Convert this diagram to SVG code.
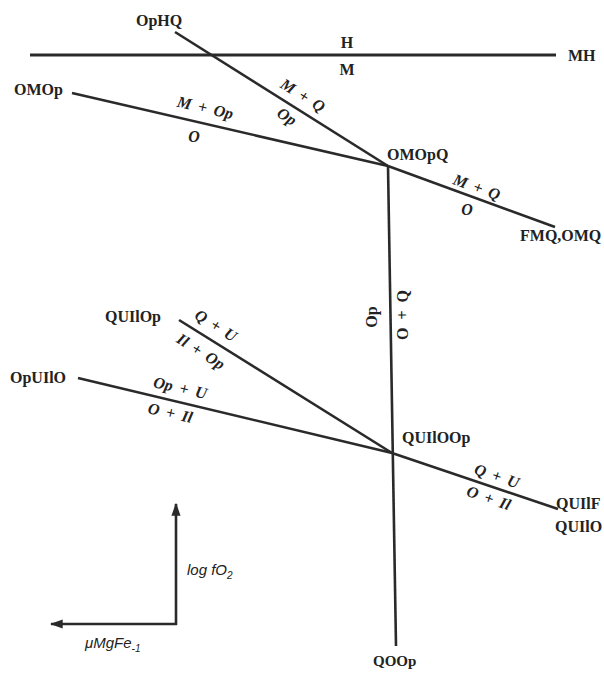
<svg xmlns="http://www.w3.org/2000/svg" width="604" height="673" viewBox="0 0 604 673">
<style>
.ln{stroke:#2a2a2a;stroke-width:2.6;fill:none;stroke-linecap:butt}
.pt{font-family:"Liberation Serif",serif;font-weight:bold;font-size:16px;fill:#222}
.ph{font-family:"Liberation Serif",serif;font-weight:bold;font-style:italic;font-size:16px;fill:#222;word-spacing:3px}
.up{font-family:"Liberation Serif",serif;font-weight:bold;font-size:16px;fill:#222}
.ax{font-family:"Liberation Sans",sans-serif;font-style:italic;font-size:15px;fill:#222}
</style>
<defs>
<marker id="ah" viewBox="0 0 10 10" refX="9" refY="5" markerWidth="5" markerHeight="5" orient="auto" markerUnits="strokeWidth">
<path d="M0,1.5 L10,5 L0,8.5 z" fill="#2a2a2a"/>
</marker>
</defs>
<rect width="604" height="673" fill="#fff"/>
<g id="connectors">
<line class="ln" x1="30" y1="55" x2="556" y2="55" style="stroke-width:3"/>
<line class="ln" x1="175" y1="32" x2="388" y2="166"/>
<line class="ln" x1="72" y1="93" x2="388" y2="166"/>
<line class="ln" x1="388" y1="166" x2="555" y2="227"/>
<line class="ln" x1="388" y1="166" x2="396" y2="646"/>
<line class="ln" x1="179" y1="320" x2="392" y2="453"/>
<line class="ln" x1="78" y1="378" x2="392" y2="453"/>
<line class="ln" x1="392" y1="453" x2="558" y2="509"/>
</g>
<g id="axes">
<line class="ln" x1="176" y1="625" x2="176" y2="504" marker-end="url(#ah)"/>
<line class="ln" x1="177" y1="624" x2="51" y2="624" marker-end="url(#ah)"/>
<text class="ax" x="187" y="575">log fO<tspan font-size="10" dy="4">2</tspan></text>
<text class="ax" x="85" y="648">μMgFe<tspan font-size="10" dy="4">-1</tspan></text>
</g>
<g id="node-OpHQ"><text class="pt" x="136" y="26">OpHQ</text></g>
<g id="node-MH"><text class="pt" x="568" y="61">MH</text></g>
<g id="node-OMOp"><text class="pt" x="14" y="95">OMOp</text></g>
<g id="node-OMOpQ"><text class="pt" x="387" y="160">OMOpQ</text></g>
<g id="node-FMQOMQ"><text class="pt" x="520" y="241">FMQ,OMQ</text></g>
<g id="node-QUIlOp"><text class="pt" x="105" y="322">QUIlOp</text></g>
<g id="node-OpUIlO"><text class="pt" x="10" y="383">OpUIlO</text></g>
<g id="node-QUIlOOp"><text class="pt" x="402" y="443">QUIlOOp</text></g>
<g id="node-QUIlF"><text class="pt" x="556" y="509">QUIlF</text></g>
<g id="node-QUIlO"><text class="pt" x="555" y="532">QUIlO</text></g>
<g id="node-QOOp"><text class="pt" x="373" y="666" style="font-size:15px">QOOp</text></g>
<g id="labels">
<text class="up" x="347" y="48" text-anchor="middle">H</text>
<text class="up" x="347" y="75" text-anchor="middle">M</text>
<text class="ph" text-anchor="middle" transform="translate(300,100) rotate(32)">M + Q</text>
<text class="ph" text-anchor="middle" transform="translate(284,121) rotate(32)">Op</text>
<text class="ph" text-anchor="middle" transform="translate(204,113) rotate(13)">M + Op</text>
<text class="ph" x="194" y="142" text-anchor="middle">O</text>
<text class="ph" text-anchor="middle" transform="translate(475,192) rotate(20)">M + Q</text>
<text class="ph" x="467" y="215" text-anchor="middle">O</text>
<text class="up" text-anchor="middle" transform="translate(377,317) rotate(-90)">Op</text>
<text class="up" text-anchor="middle" transform="translate(408,315) rotate(-90)" style="word-spacing:4px">O + Q</text>
<text class="ph" text-anchor="middle" transform="translate(213,330) rotate(32)">Q + U</text>
<text class="ph" text-anchor="middle" transform="translate(198,356) rotate(32)">Il + Op</text>
<text class="ph" text-anchor="middle" transform="translate(179,393) rotate(13)">Op + U</text>
<text class="ph" text-anchor="middle" transform="translate(169,418) rotate(13)">O + Il</text>
<text class="ph" text-anchor="middle" transform="translate(495,481) rotate(19)">Q + U</text>
<text class="ph" text-anchor="middle" transform="translate(487,503) rotate(19)">O + Il</text>
</g>
</svg>
